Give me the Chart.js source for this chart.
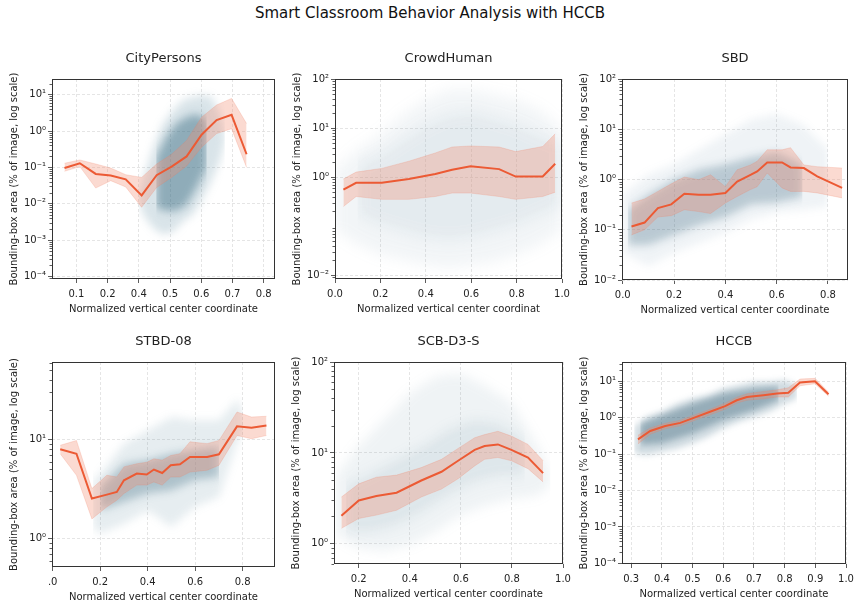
<!DOCTYPE html>
<html>
<head>
<meta charset="utf-8">
<script src="https://cdn.jsdelivr.net/npm/chart.js@4.4.0/dist/chart.umd.min.js"></script>
<style>
  body { margin: 0; background: #fff; width: 860px; height: 603px; position: relative; overflow: hidden; }
  #title { position: absolute; left: 0; top: 4px; width: 860px; text-align: center;
           font: 15px "DejaVu Sans", sans-serif; color: #111; }
  canvas { position: absolute; }
</style>
</head>
<body>
<div id="title">Smart Classroom Behavior Analysis with HCCB</div>
<script>
/* CityPersons */
const cpX = [0.062, 0.111, 0.162, 0.21, 0.258, 0.309, 0.357, 0.405, 0.453, 0.501, 0.549, 0.597, 0.645];
const cpMid = [0.096, 0.13, 0.066, 0.06, 0.047, 0.017, 0.061, 0.105, 0.2, 0.79, 2.0, 2.8, 0.23];
const cpHi = [0.13, 0.16, 0.124, 0.096, 0.063, 0.053, 0.124, 0.23, 0.55, 2.4, 5.2, 7.9, 1.6];
const cpLo = [0.078, 0.105, 0.027, 0.043, 0.029, 0.008, 0.028, 0.053, 0.11, 0.36, 0.85, 1.16, 0.1];
const cpCloudX = [0.30, 0.313, 0.346, 0.378, 0.41, 0.442, 0.474, 0.506, 0.533, 0.56, 0.575];
const cpCloudHi = [0.02, 0.043, 0.36, 1.6, 3.8, 7.1, 8.7, 9.8, 8.7, 3.0, 0.8];
const cpCloudLo = [0.012, 0.0051, 0.0021, 0.0014, 0.0017, 0.0033, 0.0051, 0.0148, 0.043, 0.155, 0.5];
const cpCoreX = [0.356, 0.388, 0.42, 0.453, 0.485, 0.517];
const cpCoreHi = [0.19, 0.68, 1.6, 2.45, 3.0, 2.0];
const cpCoreLo = [0.0078, 0.0063, 0.0063, 0.0096, 0.028, 0.1];
const cpXTicks = [0.1, 0.2, 0.3, 0.4, 0.5, 0.6, 0.7];
const cpXLabels = ["0.1", "0.2", "0.4", "0.5", "0.6", "0.7", "0.8"];
const cpYTicks = [1e-4, 1e-3, 1e-2, 1e-1, 1, 10];

/* CrowdHuman */
const chX = [0.037, 0.093, 0.206, 0.325, 0.442, 0.516, 0.597, 0.723, 0.796, 0.915, 0.97];
const chMid = [0.55, 0.76, 0.76, 0.91, 1.15, 1.41, 1.66, 1.45, 1.02, 1.03, 1.87];
const chHi = [0.91, 1.26, 1.5, 2.1, 3.1, 4.1, 4.3, 4.1, 3.3, 4.2, 7.6];
const chLo = [0.25, 0.40, 0.35, 0.35, 0.40, 0.47, 0.47, 0.40, 0.35, 0.40, 0.49];
const chCloudX = [0.0, 0.1, 0.2, 0.3, 0.4, 0.5, 0.6, 0.7, 0.8, 0.9, 1.0];
const chCloudHi = [1.4, 3.6, 7.3, 18.7, 37.8, 60.5, 60.5, 47.9, 37.8, 23.6, 9.2];
const chCloudLo = [0.084, 0.042, 0.026, 0.0205, 0.016, 0.014, 0.016, 0.0187, 0.026, 0.042, 0.084];
const chCoreX = [0.1, 0.2, 0.3, 0.4, 0.5, 0.6, 0.7, 0.8, 0.9, 1.0];
const chCoreHi = [1.8, 2.85, 5.8, 11.7, 18.7, 21.5, 16.2, 11.7, 7.3, 4.6];
const chCoreLo = [0.17, 0.106, 0.077, 0.058, 0.052, 0.058, 0.077, 0.106, 0.17, 0.27];
const chXTicks = [0, 0.2, 0.4, 0.6, 0.8, 1.0];
const chXLabels = ["0.0", "0.2", "0.4", "0.6", "0.8", "1.0"];
const chYTicks = [0.01, 1, 10, 100];

/* SBD */
const sbX = [0.034, 0.085, 0.137, 0.189, 0.24, 0.296, 0.342, 0.40, 0.446, 0.498, 0.524, 0.563, 0.621, 0.654, 0.706, 0.758, 0.855];
const sbMid = [0.116, 0.139, 0.27, 0.32, 0.52, 0.50, 0.50, 0.54, 0.91, 1.24, 1.45, 2.18, 2.18, 1.74, 1.69, 1.15, 0.68];
const sbHi = [0.34, 0.41, 0.58, 0.82, 1.12, 0.99, 1.24, 0.72, 1.56, 1.95, 2.3, 3.9, 3.9, 4.3, 1.95, 1.8, 1.69];
const sbLo = [0.079, 0.1, 0.18, 0.19, 0.25, 0.23, 0.21, 0.34, 0.46, 0.63, 0.72, 1.35, 0.68, 0.58, 0.58, 0.54, 0.43];
const sbCloudX = [0.0, 0.1, 0.2, 0.3, 0.4, 0.5, 0.6, 0.7, 0.8];
const sbCloudHi = [0.5, 1.26, 2.0, 4.0, 7.9, 15.8, 20, 12.6, 4.0];
const sbCloudLo = [0.035, 0.019, 0.035, 0.055, 0.087, 0.16, 0.22, 0.25, 0.29];
const sbCoreX = [0.02, 0.1, 0.2, 0.3, 0.4, 0.5, 0.6, 0.7];
const sbCoreHi = [0.25, 0.5, 1.0, 1.6, 2.0, 2.8, 3.5, 2.0];
const sbCoreLo = [0.05, 0.05, 0.079, 0.126, 0.18, 0.32, 0.35, 0.45];
const sbXTicks = [0, 0.2, 0.4, 0.6, 0.8];
const sbXLabels = ["0.0", "0.2", "0.4", "0.6", "0.8"];
const sbYTicks = [0.01, 0.1, 1, 10, 100];

/* STBD-08 */
const stX = [0.0315, 0.10, 0.165, 0.228, 0.27, 0.30, 0.354, 0.396, 0.426, 0.461, 0.497, 0.536, 0.578, 0.65, 0.70, 0.776, 0.837, 0.90];
const stMid = [8.0, 7.2, 2.54, 2.78, 2.96, 3.88, 4.54, 4.43, 4.98, 4.6, 5.5, 5.62, 6.67, 6.67, 7.1, 13.6, 13.2, 13.9];
const stHi = [8.75, 9.8, 3.2, 4.36, 4.19, 5.3, 5.7, 5.9, 6.4, 6.2, 6.9, 7.2, 9.5, 9.1, 9.8, 19, 16.9, 17.2];
const stLo = [7.2, 4.36, 1.58, 2.09, 2.44, 2.85, 3.47, 3.47, 3.73, 3.47, 4.19, 4.19, 4.7, 4.9, 5.5, 11, 10.2, 11];
const stCloudX = [0.17, 0.2, 0.3, 0.4, 0.5, 0.6, 0.7, 0.78, 0.8];
const stCloudHi = [3.9, 4.5, 9.1, 12.4, 16.9, 15.7, 15.7, 25.9, 18.3];
const stCloudLo = [1.31, 1.12, 1.41, 1.93, 1.31, 2.09, 2.63, 9.8, 11.5];
const stCoreX = [0.2, 0.3, 0.4, 0.5, 0.6, 0.7];
const stCoreHi = [3.3, 5.7, 6.2, 7.2, 7.8, 8.4];
const stCoreLo = [1.93, 2.34, 2.85, 3.08, 3.9, 4.19];
const stXTicks = [0, 0.2, 0.4, 0.6, 0.8];
const stXLabels = [".0", "0.2", "0.4", "0.6", "0.8"];
const stYTicks = [1, 10];

/* SCB-D3-S */
const scX = [0.132, 0.2, 0.269, 0.348, 0.445, 0.524, 0.589, 0.654, 0.693, 0.745, 0.798, 0.863, 0.922];
const scMid = [2.04, 3.0, 3.36, 3.65, 4.97, 6.2, 8.2, 10.8, 11.9, 12.4, 10.8, 8.9, 6.0];
const scHi = [3.27, 4.57, 5.4, 5.7, 6.9, 8.5, 11.2, 14.7, 15.9, 17.3, 15.3, 12.4, 8.2];
const scLo = [1.48, 1.9, 2.07, 2.34, 3.27, 4.0, 5.2, 7.2, 8.5, 8.9, 8.2, 6.7, 4.8];
const scCloudX = [0.11, 0.2, 0.3, 0.4, 0.5, 0.6, 0.7, 0.8, 0.9, 0.95];
const scCloudHi = [5.6, 11.9, 23.2, 45.3, 68.7, 74.7, 53.5, 35.3, 11.9, 6.1];
const scCloudLo = [1.25, 0.9, 0.83, 0.975, 1.36, 2.07, 2.65, 3.14, 3.41, 4.38];
const scCoreX = [0.15, 0.25, 0.35, 0.45, 0.55, 0.65, 0.75, 0.85];
const scCoreHi = [4.38, 6.1, 8.5, 11.9, 18.1, 23.2, 21.4, 14.1];
const scCoreLo = [1.36, 1.36, 1.61, 2.25, 3.41, 4.76, 5.6, 5.6];
const scXTicks = [0.2, 0.4, 0.6, 0.8, 1.0];
const scXLabels = ["0.2", "0.4", "0.6", "0.8", "1.0"];
const scYTicks = [1, 10, 100];

/* HCCB */
const hcX = [0.322, 0.362, 0.411, 0.46, 0.508, 0.557, 0.606, 0.644, 0.677, 0.731, 0.775, 0.812, 0.85, 0.899, 0.943];
const hcMid = [0.254, 0.43, 0.59, 0.72, 1.02, 1.45, 2.07, 3.0, 3.7, 4.14, 4.6, 4.8, 9.2, 10, 4.4];
const hcHi = [0.33, 0.52, 0.7, 0.85, 1.2, 1.7, 2.5, 3.6, 4.5, 5.2, 5.8, 6.6, 11.5, 12.0, 5.0];
const hcLo = [0.19, 0.35, 0.5, 0.6, 0.85, 1.2, 1.7, 2.5, 3.0, 3.3, 3.7, 3.7, 7.5, 8.5, 3.9];
const hcCloudX = [0.31, 0.35, 0.4, 0.45, 0.5, 0.55, 0.6, 0.65, 0.7, 0.75, 0.8, 0.84];
const hcCloudHi = [0.56, 1.05, 1.45, 2.45, 3.37, 4.14, 6.3, 7.8, 9.5, 9.5, 10.6, 7.8];
const hcCloudLo = [0.105, 0.094, 0.116, 0.143, 0.197, 0.3, 0.51, 0.77, 1.05, 1.45, 2.45, 3.37];
const hcCoreX = [0.33, 0.4, 0.5, 0.6, 0.7, 0.78];
const hcCoreHi = [0.69, 1.17, 2.45, 4.6, 6.3, 7.0];
const hcCoreLo = [0.178, 0.197, 0.37, 0.86, 1.6, 3.0];
const hcXTicks = [0.3, 0.4, 0.5, 0.6, 0.7, 0.8, 0.9, 1.0];
const hcXLabels = ["0.3", "0.4", "0.5", "0.6", "0.7", "0.8", "0.9", "1.0"];
const hcYTicks = [1e-4, 1e-3, 1e-2, 1e-1, 1, 10];

const FONT = "'DejaVu Sans', sans-serif";
const Y_TITLE = "Bounding-box area (% of image, log scale)";
const X_TITLE = "Normalized vertical center coordinate";
const ORANGE = "#ec5a34";
const BAND = "rgba(243, 140, 112, 0.32)";
const BAND_EDGE = "rgba(240, 120, 90, 0.35)";

const SUP = { "-": "\u207b", "0": "\u2070", "1": "\u00b9", "2": "\u00b2", "3": "\u00b3",
  "4": "\u2074", "5": "\u2075", "6": "\u2076", "7": "\u2077", "8": "\u2078", "9": "\u2079" };
const powLabel = v => "10" + String(Math.round(Math.log10(v))).split("").map(c => SUP[c]).join("");
const pts = (xs, ys) => xs.map((x, i) => ({ x: x, y: ys[i] }));

/* minor log ticks + full frame */
const framePlugin = {
    id: "frame",
    afterDraw(chart) {
        const ctx = chart.ctx, a = chart.chartArea, y = chart.scales.y;
        ctx.save();
        ctx.strokeStyle = "#333";
        ctx.lineWidth = 0.8;
        const e0 = Math.floor(Math.log10(y.min)), e1 = Math.ceil(Math.log10(y.max));
        for (let e = e0; e <= e1; e++) {
            for (let m = 2; m < 10; m++) {
                const v = m * Math.pow(10, e);
                if (v < y.min || v > y.max) continue;
                const py = Math.round(y.getPixelForValue(v)) + 0.5;
                ctx.beginPath();
                ctx.moveTo(a.left - 2.5, py);
                ctx.lineTo(a.left, py);
                ctx.stroke();
            }
        }
        ctx.lineWidth = 1;
        ctx.strokeRect(a.left + 0.5, a.top + 0.5, a.right - a.left - 1, a.bottom - a.top - 1);
        ctx.restore();
    }
};

/* soften the point-cloud envelopes (datasets 3..6) */
const hazePlugin = {
    id: "haze",
    beforeDatasetsDraw(chart, args, opts) {
        chart.ctx.filter = "blur(" + opts.blur + "px)";
    },
    afterDatasetDraw(chart, args) {
        if (args.index === 3) chart.ctx.filter = "none";
    }
};

function panel(p) {
    const [L, T, R, B] = p.box;
    const padR = 14;
    const w = R - L + 52 + padR, h = B - T + 80;
    const cv = document.createElement("canvas");
    cv.width = w; cv.height = h;
    cv.style.left = (L - 52) + "px";
    cv.style.top = (T - 40) + "px";
    cv.style.width = w + "px";
    cv.style.height = h + "px";
    document.body.appendChild(cv);

    const hidden = "rgba(0,0,0,0)";
    const grid = { color: "#dedede", lineWidth: 0.8, tickColor: "#333", tickLength: 4, drawTicks: true };
    const tickFont = { family: FONT, size: 10 };

    new Chart(cv, {
        type: "line",
        data: {
            datasets: [
                { data: pts(p.x, p.mid), borderColor: ORANGE, borderWidth: 2, order: 0 },
                { data: pts(p.x, p.lo), borderColor: BAND_EDGE, borderWidth: 0.6, order: 1 },
                { data: pts(p.x, p.hi), borderColor: BAND_EDGE, borderWidth: 0.6, backgroundColor: BAND, fill: "-1", order: 1 },
                { data: pts(p.coreX, p.coreLo), borderColor: hidden, borderWidth: 0, order: 2 },
                { data: pts(p.coreX, p.coreHi), borderColor: hidden, borderWidth: 0, backgroundColor: p.coreColor, fill: "-1", order: 2 },
                { data: pts(p.cloudX, p.cloudLo), borderColor: hidden, borderWidth: 0, order: 3 },
                { data: pts(p.cloudX, p.cloudHi), borderColor: hidden, borderWidth: 0, backgroundColor: p.cloudColor, fill: "-1", order: 3 }
            ]
        },
        options: {
            responsive: false,
            animation: false,
            devicePixelRatio: 1,
            layout: { padding: { left: 0, right: padR, top: 0, bottom: 0 } },
            elements: { point: { radius: 0 }, line: { tension: 0 } },
            plugins: {
                legend: { display: false },
                tooltip: { enabled: false },
                haze: { blur: p.blur },
                title: {
                    display: true, fullSize: false, text: p.title, color: "#222",
                    font: { family: FONT, size: 13, weight: "normal" },
                    padding: { top: 12, bottom: 12.4 }
                }
            },
            scales: {
                x: {
                    type: "linear", min: p.xMin, max: p.xMax,
                    afterBuildTicks: s => { s.ticks = p.xTicks.map(v => ({ value: v })); },
                    afterFit: s => { s.height = 40; },
                    ticks: { callback: (v, i) => p.xLabels[i], color: "#222", font: tickFont,
                             padding: 5, maxRotation: 0, autoSkip: false },
                    grid: grid,
                    border: { display: false, dash: [3, 2] },
                    title: { display: true, text: p.xTitle || X_TITLE, color: "#222",
                             font: { family: FONT, size: 10 }, padding: { top: 0, bottom: 4 } }
                },
                y: {
                    type: "logarithmic", min: p.yMin, max: p.yMax,
                    afterBuildTicks: s => { s.ticks = p.yTicks.map(v => ({ value: v })); },
                    afterFit: s => { s.width = 52; },
                    ticks: { callback: v => powLabel(v), color: "#222",
                             font: tickFont, padding: 2, autoSkip: false },
                    grid: grid,
                    border: { display: false, dash: [3, 2] },
                    title: { display: true, text: Y_TITLE, color: "#222",
                             font: { family: FONT, size: 10 }, padding: { top: 8, bottom: 0 } }
                }
            }
        },
        plugins: [hazePlugin, framePlugin]
    });
}

panel({ title: "CityPersons", box: [52, 79, 275, 279],
    x: cpX, mid: cpMid, hi: cpHi, lo: cpLo,
    cloudX: cpCloudX, cloudHi: cpCloudHi, cloudLo: cpCloudLo,
    coreX: cpCoreX, coreHi: cpCoreHi, coreLo: cpCoreLo,
    cloudColor: "rgba(80, 130, 155, 0.22)", coreColor: "rgba(40, 95, 120, 0.42)", blur: 4,
    xMin: 0.022, xMax: 0.736, xTicks: cpXTicks, xLabels: cpXLabels,
    yMin: 8.5e-5, yMax: 27, yTicks: cpYTicks });

panel({ title: "CrowdHuman", box: [335, 79, 562, 279], xTitle: "Normalized vertical center coordinat",
    x: chX, mid: chMid, hi: chHi, lo: chLo,
    cloudX: chCloudX, cloudHi: chCloudHi, cloudLo: chCloudLo,
    coreX: chCoreX, coreHi: chCoreHi, coreLo: chCoreLo,
    cloudColor: "rgba(110, 145, 165, 0.09)", coreColor: "rgba(110, 145, 165, 0.1)", blur: 7,
    xMin: 0, xMax: 1, xTicks: chXTicks, xLabels: chXLabels,
    yMin: 0.0083, yMax: 100, yTicks: chYTicks });

panel({ title: "SBD", box: [622, 79, 848, 280],
    x: sbX, mid: sbMid, hi: sbHi, lo: sbLo,
    cloudX: sbCloudX, cloudHi: sbCloudHi, cloudLo: sbCloudLo,
    coreX: sbCoreX, coreHi: sbCoreHi, coreLo: sbCoreLo,
    cloudColor: "rgba(80, 125, 150, 0.09)", coreColor: "rgba(45, 95, 120, 0.28)", blur: 4,
    xMin: -0.003, xMax: 0.878, xTicks: sbXTicks, xLabels: sbXLabels,
    yMin: 0.01, yMax: 100, yTicks: sbYTicks });

panel({ title: "STBD-08", box: [52, 362, 275, 567],
    x: stX, mid: stMid, hi: stHi, lo: stLo,
    cloudX: stCloudX, cloudHi: stCloudHi, cloudLo: stCloudLo,
    coreX: stCoreX, coreHi: stCoreHi, coreLo: stCoreLo,
    cloudColor: "rgba(80, 125, 150, 0.14)", coreColor: "rgba(45, 95, 120, 0.3)", blur: 4,
    xMin: -0.003, xMax: 0.936, xTicks: stXTicks, xLabels: stXLabels,
    yMin: 0.516, yMax: 60.8, yTicks: stYTicks });

panel({ title: "SCB-D3-S", box: [334, 362, 563, 564],
    x: scX, mid: scMid, hi: scHi, lo: scLo,
    cloudX: scCloudX, cloudHi: scCloudHi, cloudLo: scCloudLo,
    coreX: scCoreX, coreHi: scCoreHi, coreLo: scCoreLo,
    cloudColor: "rgba(100, 140, 160, 0.1)", coreColor: "rgba(100, 140, 160, 0.12)", blur: 6,
    xMin: 0.103, xMax: 1.0, xTicks: scXTicks, xLabels: scXLabels,
    yMin: 0.628, yMax: 100, yTicks: scYTicks });

panel({ title: "HCCB", box: [622, 362, 846, 564],
    x: hcX, mid: hcMid, hi: hcHi, lo: hcLo,
    cloudX: hcCloudX, cloudHi: hcCloudHi, cloudLo: hcCloudLo,
    coreX: hcCoreX, coreHi: hcCoreHi, coreLo: hcCoreLo,
    cloudColor: "rgba(60, 105, 130, 0.24)", coreColor: "rgba(40, 85, 110, 0.35)", blur: 3,
    xMin: 0.27, xMax: 1.0, xTicks: hcXTicks, xLabels: hcXLabels,
    yMin: 9.64e-5, yMax: 33.7, yTicks: hcYTicks });
</script>
</body>
</html>
